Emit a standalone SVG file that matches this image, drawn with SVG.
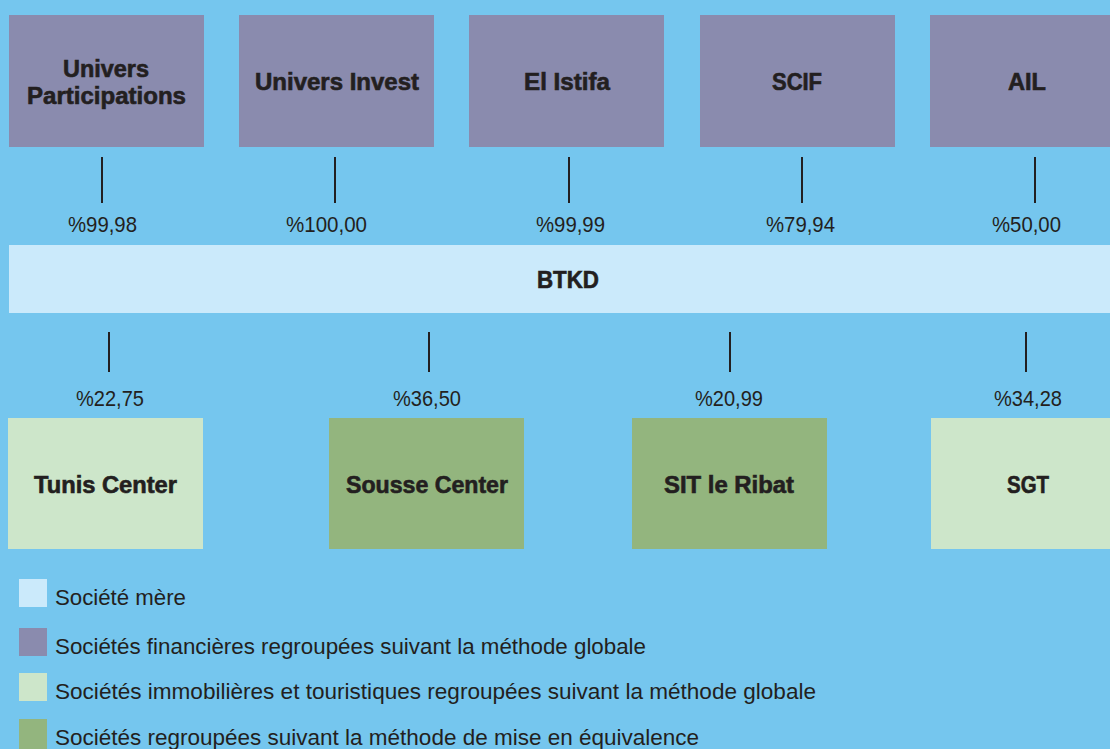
<svg xmlns="http://www.w3.org/2000/svg" width="1110" height="749" viewBox="0 0 1110 749">
<style>
.bg{fill:#75C6EE}
.fin{fill:#8A8BAE}
.mere{fill:#CBEAFB}
.immo{fill:#CDE6CA}
.equiv{fill:#93B57E}
.title{font-family:"Liberation Sans",Arial,sans-serif;font-weight:bold;font-size:23px;fill:#231F20;stroke:#231F20;stroke-width:0.6;text-anchor:middle}
.pct{font-family:"Liberation Sans",Arial,sans-serif;font-size:22px;fill:#231F20;text-anchor:middle}
.leg{font-family:"Liberation Sans",Arial,sans-serif;font-size:22px;fill:#231F20}
.conn line{stroke:#231F20;stroke-width:2}
</style>
<rect class="bg" x="0" y="0" width="1110" height="749"/>

<g id="univers-participations">
<rect class="fin" x="9" y="15" width="195" height="132"/>
<text class="title" x="106" y="77" textLength="86" lengthAdjust="spacingAndGlyphs">Univers</text>
<text class="title" x="106.5" y="104" textLength="159" lengthAdjust="spacingAndGlyphs">Participations</text>
</g>
<g id="univers-invest">
<rect class="fin" x="239" y="15" width="195" height="132"/>
<text class="title" x="337" y="90" textLength="164" lengthAdjust="spacingAndGlyphs">Univers Invest</text>
</g>
<g id="el-istifa">
<rect class="fin" x="469" y="15" width="195" height="132"/>
<text class="title" x="567" y="90" textLength="86" lengthAdjust="spacingAndGlyphs">El Istifa</text>
</g>
<g id="scif">
<rect class="fin" x="700" y="15" width="195" height="132"/>
<text class="title" x="797" y="90" textLength="50" lengthAdjust="spacingAndGlyphs">SCIF</text>
</g>
<g id="ail">
<rect class="fin" x="930" y="15" width="195" height="132"/>
<text class="title" x="1027" y="90" textLength="38" lengthAdjust="spacingAndGlyphs">AIL</text>
</g>

<g id="btkd">
<rect class="mere" x="9" y="245" width="1101" height="68"/>
<text class="title" x="568" y="288" textLength="62" lengthAdjust="spacingAndGlyphs">BTKD</text>
</g>

<g id="tunis-center">
<rect class="immo" x="8" y="418" width="195" height="131"/>
<text class="title" x="105.5" y="493" textLength="143" lengthAdjust="spacingAndGlyphs">Tunis Center</text>
</g>
<g id="sousse-center">
<rect class="equiv" x="329" y="418" width="195" height="131"/>
<text class="title" x="427" y="493" textLength="162" lengthAdjust="spacingAndGlyphs">Sousse Center</text>
</g>
<g id="sit-le-ribat">
<rect class="equiv" x="632" y="418" width="195" height="131"/>
<text class="title" x="729" y="493" textLength="130" lengthAdjust="spacingAndGlyphs">SIT le Ribat</text>
</g>
<g id="sgt">
<rect class="immo" x="931" y="418" width="195" height="131"/>
<text class="title" x="1028" y="493" textLength="42" lengthAdjust="spacingAndGlyphs">SGT</text>
</g>

<g id="connectors" class="conn">
<line x1="102" y1="157" x2="102" y2="203"/>
<line x1="335" y1="157" x2="335" y2="203"/>
<line x1="569" y1="157" x2="569" y2="203"/>
<line x1="802" y1="157" x2="802" y2="203"/>
<line x1="1035" y1="157" x2="1035" y2="203"/>
<line x1="109" y1="332" x2="109" y2="372"/>
<line x1="429" y1="332" x2="429" y2="372"/>
<line x1="730" y1="332" x2="730" y2="372"/>
<line x1="1026" y1="332" x2="1026" y2="372"/>
<text class="pct" x="102.5" y="232" textLength="69" lengthAdjust="spacingAndGlyphs">%99,98</text>
<text class="pct" x="326.5" y="232" textLength="81" lengthAdjust="spacingAndGlyphs">%100,00</text>
<text class="pct" x="570.5" y="232" textLength="69" lengthAdjust="spacingAndGlyphs">%99,99</text>
<text class="pct" x="800.5" y="232" textLength="69" lengthAdjust="spacingAndGlyphs">%79,94</text>
<text class="pct" x="1026.5" y="232" textLength="69" lengthAdjust="spacingAndGlyphs">%50,00</text>
<text class="pct" x="110" y="406" textLength="68" lengthAdjust="spacingAndGlyphs">%22,75</text>
<text class="pct" x="427" y="406" textLength="68" lengthAdjust="spacingAndGlyphs">%36,50</text>
<text class="pct" x="729" y="406" textLength="68" lengthAdjust="spacingAndGlyphs">%20,99</text>
<text class="pct" x="1028" y="406" textLength="68" lengthAdjust="spacingAndGlyphs">%34,28</text>
</g>

<g id="legend">
<rect class="mere" x="19" y="579" width="28" height="28"/>
<text class="leg" x="55" y="605" textLength="131" lengthAdjust="spacingAndGlyphs">Société mère</text>
<rect class="fin" x="19" y="628" width="28" height="28"/>
<text class="leg" x="55" y="654" textLength="591" lengthAdjust="spacingAndGlyphs">Sociétés financières regroupées suivant la méthode globale</text>
<rect class="immo" x="19" y="673" width="28" height="28"/>
<text class="leg" x="55" y="699" textLength="761" lengthAdjust="spacingAndGlyphs">Sociétés immobilières et touristiques regroupées suivant la méthode globale</text>
<rect class="equiv" x="19" y="719" width="28" height="30"/>
<text class="leg" x="55" y="745" textLength="644" lengthAdjust="spacingAndGlyphs">Sociétés regroupées suivant la méthode de mise en équivalence</text>
</g>
</svg>
